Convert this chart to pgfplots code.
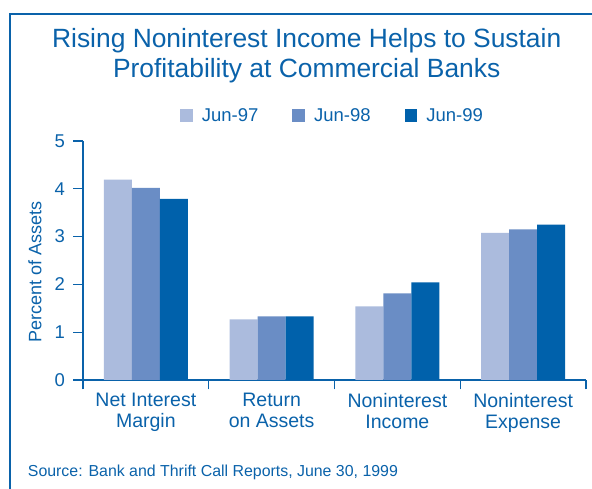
\documentclass[border=0pt]{standalone}
\usepackage{pgfplots}
\pgfplotsset{compat=1.18}
\usepackage{fontspec}
\setmainfont{Liberation Sans}
\definecolor{frblue}{HTML}{0A62AA}
\definecolor{c97}{HTML}{ABBBDD}
\definecolor{c98}{HTML}{6A8DC5}
\definecolor{c99}{HTML}{0061AB}

\begin{document}
\begin{tikzpicture}
\begin{axis}[
  scale only axis, width=503bp, height=239bp,
  clip=false,
  xmin=-0.5, xmax=3.5, ymin=0, ymax=5,
  axis x line*=bottom, axis y line*=left,
  axis line style={frblue, line width=1.3bp},
  tick align=outside, major tick length=9.5bp,
  tick style={frblue, line width=1.3bp},
  xtick={-0.5,0.5,1.5,2.5,3.5}, x tick label as interval,
  xticklabels={Net Interest\\Margin, Return\\on Assets, Noninterest\\Income, Noninterest\\Expense},
  x tick label style={align=center, text=frblue, font=\fontsize{19.5bp}{21bp}\selectfont},
  ytick={0,...,5},
  y tick label style={text=frblue, xshift=-5bp, font=\fontsize{18.5bp}{20bp}\selectfont},
  /pgf/number format/assume math mode=true,
  ylabel={Percent of Assets},
  ylabel style={text=frblue, font=\fontsize{18bp}{20bp}\selectfont,
                at={(axis description cs:-0.0954,0.452)}, anchor=center},
  ybar=0pt, bar width=28bp,
  legend image code/.code={\fill[#1,draw=none] (0bp,-6.35bp) rectangle (12.7bp,6.35bp);},
  legend columns=-1,
  legend style={draw=none, fill=none, inner sep=0pt, anchor=west,
                at={(axis description cs:0.1928,1.1071)},
                font=\fontsize{18.5bp}{20bp}\selectfont, text=frblue,
                /tikz/every odd column/.append style={column sep=7bp},
                /tikz/every even column/.append style={column sep=32bp}},
]
\addplot[fill=c97, draw=none] coordinates {(0,4.19) (1,1.27) (2,1.54) (3,3.08)};
\addplot[fill=c98, draw=none] coordinates {(0,4.02) (1,1.33) (2,1.81) (3,3.15)};
\addplot[fill=c99, draw=none] coordinates {(0,3.79) (1,1.33) (2,2.04) (3,3.25)};
\legend{Jun-97,Jun-98,Jun-99}
% page corners and frame, in the axis's own relative coordinates
\coordinate (pageSW) at (rel axis cs:-0.16501,-0.45607);
\coordinate (pageNE) at (rel axis cs:1.01193,1.58996);
\draw[frblue, line width=2bp] (rel axis cs:-0.14513,-0.45607)
  -- (rel axis cs:-0.14513,1.53138) -- (rel axis cs:1.01193,1.53138);
\node[frblue, align=center, anchor=base, inner sep=0pt,
      font=\fontsize{26.4bp}{30bp}\selectfont] at (rel axis cs:0.44473,1.26360)
  {Rising Noninterest Income Helps to Sustain\\Profitability at Commercial Banks};
\node[frblue, anchor=base west, inner sep=0pt,
      font=\fontsize{15.9bp}{19bp}\selectfont] at (rel axis cs:-0.10994,-0.40377)
  {Source: Bank and Thrift Call Reports, June 30, 1999};
\end{axis}
\pgfresetboundingbox
\path[use as bounding box] (pageSW) rectangle (pageNE);
\end{tikzpicture}
\end{document}
